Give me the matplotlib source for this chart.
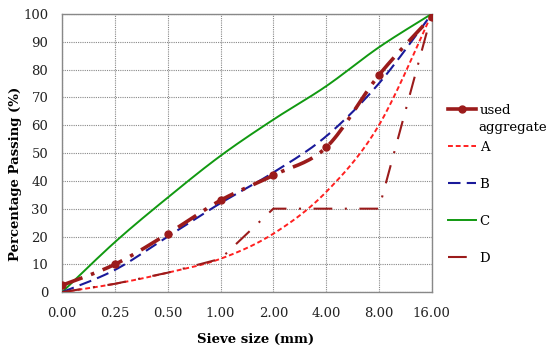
import matplotlib
matplotlib.use("Agg")
import matplotlib.pyplot as plt
from matplotlib.lines import Line2D
import numpy as np

sieve_labels = ["0.00", "0.25", "0.50", "1.00", "2.00", "4.00", "8.00", "16.00"]
used_aggregate = [2.5, 10, 21, 33, 42, 52, 78, 99]
grading_A = [0, 3, 7, 12, 21, 36, 60, 100]
grading_B = [0, 8, 20, 32, 43, 56, 75, 100]
grading_C = [0, 18, 34, 49, 62, 74, 88, 100]
grading_D = [0, 3, 7, 12, 30, 30, 30, 100]

plt.rcParams['font.family'] = ['DejaVu Serif']


def smooth(xs, ys, n=20):
    """Excel-like smoothed line (Catmull-Rom Bezier) through the data points."""
    xs = np.asarray(xs, float)
    ys = np.asarray(ys, float)
    px = np.concatenate([[xs[0]], xs, [xs[-1]]])
    py = np.concatenate([[ys[0]], ys, [ys[-1]]])
    ox, oy = [], []
    t = np.linspace(0, 1, n)
    for i in range(1, len(px) - 2):
        p0 = np.array([px[i], py[i]])
        p3 = np.array([px[i + 1], py[i + 1]])
        c1 = p0 + (np.array([px[i + 1], py[i + 1]]) - np.array([px[i - 1], py[i - 1]])) / 6
        c2 = p3 - (np.array([px[i + 2], py[i + 2]]) - np.array([px[i], py[i]])) / 6
        b = ((1 - t) ** 3)[:, None] * p0 + (3 * (1 - t) ** 2 * t)[:, None] * c1 \
            + (3 * (1 - t) * t ** 2)[:, None] * c2 + (t ** 3)[:, None] * p3
        ox.extend(b[:, 0])
        oy.extend(b[:, 1])
    return np.array(ox), np.array(oy)


fig = plt.figure(figsize=(5.5, 3.55), dpi=100)
ax = fig.add_axes([0.113, 0.177, 0.672, 0.784])

x = np.arange(len(sieve_labels))
darkred = "#9B1B1B"

sx, sy = smooth(x, used_aggregate)
ax.plot(sx, sy, color=darkred, lw=2.6, dashes=(6, 2.5, 1, 2.5), zorder=5)
ax.plot(x, used_aggregate, linestyle='none', color=darkred, marker='o', markersize=5, zorder=6)
sx, sy = smooth(x, grading_A)
ln_A, = ax.plot(sx, sy, color="#FF2020", lw=1.4, dashes=(2.5, 1.5), zorder=3)
sx, sy = smooth(x, grading_B)
ln_B, = ax.plot(sx, sy, color="#1A1A9A", lw=1.5, dashes=(6, 3), zorder=4)
sx, sy = smooth(x, grading_C)
ln_C, = ax.plot(sx, sy, color="#119911", lw=1.4, zorder=3)
ln_D, = ax.plot(x, grading_D, color=darkred, lw=1.5, dashes=(9, 6, 1, 6), zorder=4)

ax.set_xlim(0, len(sieve_labels) - 1)
ax.set_ylim(0, 100)
ax.set_xticks(x)
ax.set_xticklabels(sieve_labels)
ax.set_yticks(np.arange(0, 101, 10))
ax.tick_params(axis='y', length=0, labelsize=9.5, colors="#222222", pad=10)
ax.tick_params(axis='x', length=0, labelsize=9.5, colors="#222222", pad=11)
ax.grid(True, color="#888888", linestyle=(0, (1, 1)), linewidth=0.8)
for s in ax.spines.values():
    s.set_color("#888888")
    s.set_linewidth(1.0)

ax.set_xlabel("Sieve size (mm)", fontsize=9.5, fontweight="bold")
ax.xaxis.set_label_coords(0.524, -0.148)
ax.set_ylabel("Percentage Passing (%)", fontsize=9.5, fontweight="bold", va="center")
ax.yaxis.set_label_coords(-0.127, 0.424)

h_used = Line2D([], [], color=darkred, lw=2.6, marker='o', markersize=5)
leg = fig.legend([h_used, ln_A, ln_B, ln_C, ln_D],
                 ["used", "A", "B", "C", "D"],
                 loc="upper left", bbox_to_anchor=(0.805, 0.722), frameon=False,
                 fontsize=9.5, handlelength=2.1, labelspacing=1.82, handletextpad=0.3,
                 borderaxespad=0)
fig.text(478 / 550, 1 - 128 / 355, "aggregate", fontsize=9.5, ha="left", va="center")

fig.savefig("out.png", dpi=100)
